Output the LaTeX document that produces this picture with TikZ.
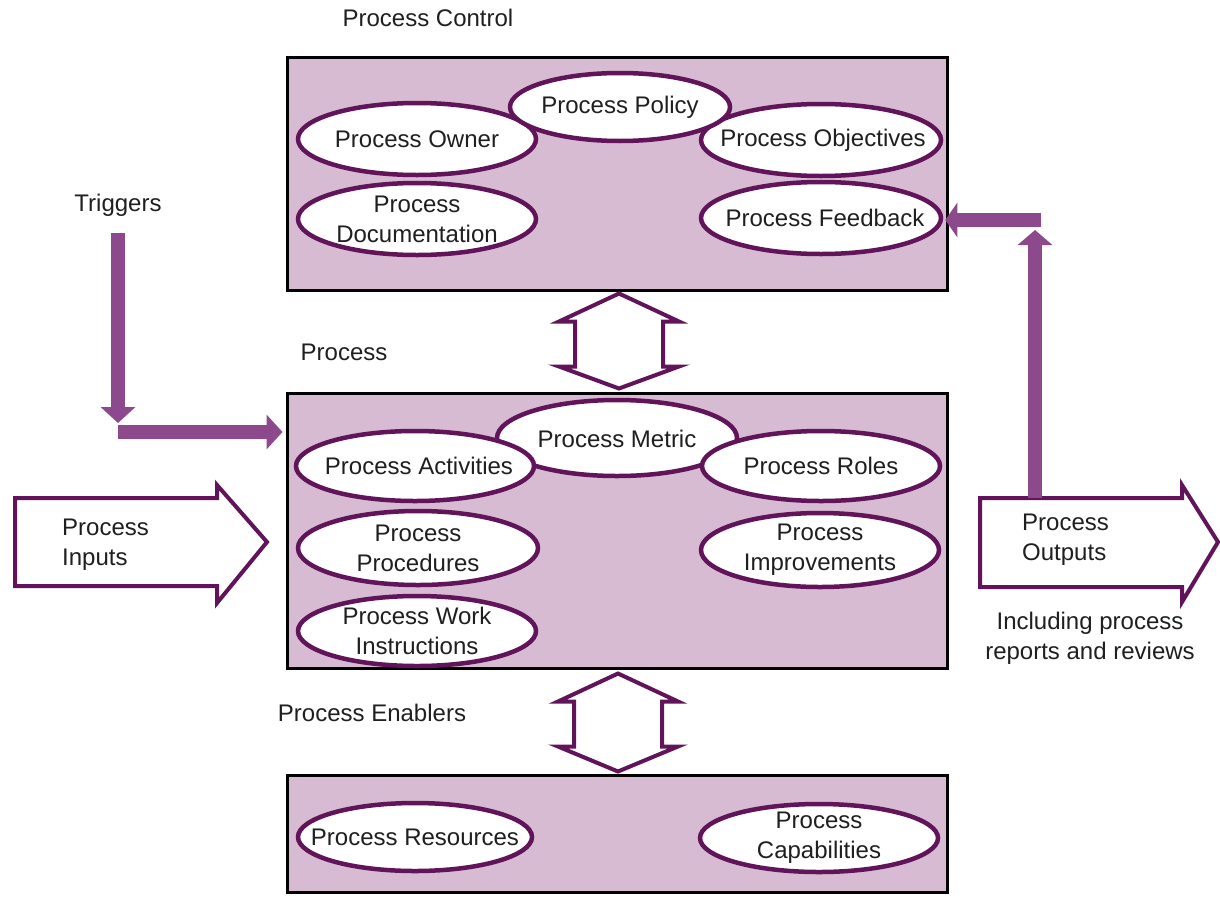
\documentclass[tikz,border=0pt]{standalone}
\usepackage{fontspec}
\setmainfont{Liberation Sans}
\usetikzlibrary{arrows.meta,shapes.geometric,calc}
\definecolor{boxfill}{HTML}{D7BBD3}
\definecolor{ringline}{HTML}{62145A}
\definecolor{flowline}{HTML}{8C4A8C}

\begin{document}
\begin{tikzpicture}[x=1pt,y=-1pt,
  every node/.style={font=\fontsize{24}{30}\selectfont, text=black!88},
  stage/.style={rectangle, draw=black, line width=3pt, fill=boxfill, inner sep=0pt},
  item/.style={ellipse, draw=ringline, line width=4.5pt, fill=white, inner sep=0pt,
    minimum width=238pt, minimum height=72pt},
  tag/.style={align=center, inner sep=0pt},
  flow/.style={draw=flowline, line width=14pt, -{Triangle[length=16pt,width=34pt]}},
  hollow/.style={draw=ringline, line width=4pt, fill=white, line join=miter},
  heading/.style={inner sep=0pt}
]
\useasboundingbox (0,0) rectangle (1220,897);

% three layers
\node[stage, minimum width=660pt, minimum height=233pt] (ctrl) at (617,173.5) {};
\node[stage, minimum width=660pt, minimum height=275pt] (proc) at (617,530.5) {};
\node[stage, minimum width=660pt, minimum height=117pt] (enab) at (617,833.5) {};

% headings
\node[heading] (hctrl) at (428,18) {Process Control};
\node[heading] (hproc) at (344,352) {Process};
\node[heading] (henab) at (372,713) {Process Enablers};
\node[heading] (trig) at (118,205) {Triggers};

% control elements
\node[item, label={[tag]center:Process Owner}] (owner) at (417,139) {};
\node[item, minimum width=240pt, label={[tag,xshift=2pt]center:Process Objectives}] (objectives) at (821,140) {};
\node[item, minimum width=220pt, minimum height=68pt, label={[tag]center:Process Policy}] (policy) at (620,107) {};
\node[item, label={[tag]center:Process\\Documentation}] (docs) at (417,219) {};
\node[item, minimum width=240pt, label={[tag,xshift=4pt]center:Process Feedback}] (feedback) at (821,218) {};

% process elements
\node[item, minimum width=240pt, minimum height=76pt, label={[tag,yshift=-1pt]center:Process Metric}] (metric) at (617,438) {};
\node[item, minimum width=238pt, minimum height=70pt, label={[tag,xshift=4pt]center:Process Activities}] (activities) at (415,466) {};
\node[item, minimum height=70pt, label={[tag]center:Process Roles}] (roles) at (821,466) {};
\node[item, minimum width=240pt, minimum height=74pt, label={[tag]center:Process\\Procedures}] (procedures) at (418,548) {};
\node[item, minimum height=74pt, label={[tag]center:Process\\Improvements}] (improve) at (820,550) {};
\node[item, minimum height=70pt, label={[tag]center:Process Work\\Instructions}] (work) at (417,631) {};

% enablers
\node[item, minimum width=234pt, minimum height=68pt, label={[tag]center:Process Resources}] (resources) at (415,837) {};
\node[item, minimum height=68pt, label={[tag]center:Process\\Capabilities}] (capab) at (819,838) {};

% hollow double arrows between layers
\coordinate (u1) at ($(ctrl.south)+(2,2)$);
\coordinate (u2) at ($(proc.north)+(2,-3)$);
\draw[hollow] (u1) -- ($(u1)+(60,28)$) -- ($(u1)+(44,28)$) -- ($(u2)+(44,-22)$)
  -- ($(u2)+(60,-22)$) -- (u2) -- ($(u2)+(-60,-22)$) -- ($(u2)+(-44,-22)$)
  -- ($(u1)+(-44,28)$) -- ($(u1)+(-60,28)$) -- cycle;
\coordinate (l1) at ($(proc.south)+(1,4)$);
\coordinate (l2) at ($(enab.north)+(1,-2)$);
\draw[hollow] (l1) -- ($(l1)+(60,28)$) -- ($(l1)+(44,28)$) -- ($(l2)+(44,-25)$)
  -- ($(l2)+(60,-25)$) -- (l2) -- ($(l2)+(-60,-25)$) -- ($(l2)+(-44,-25)$)
  -- ($(l1)+(-44,28)$) -- ($(l1)+(-60,28)$) -- cycle;

% inputs block arrow
\draw[hollow] (15,498) coordinate (inA) -- (217,498) -- (217,485) -- (267,542) coordinate (inTip)
  -- (217,603) -- (217,586) -- (15,586) -- cycle;
\node[heading, anchor=west, align=left] (inputs) at (62,545) {Process\\Inputs};

% outputs block arrow
\draw[hollow] (980,498) coordinate (outA) -- (1182,498) -- (1182,485) -- (1218,542) coordinate (outTip)
  -- (1182,602) -- (1182,587) -- (980,587) -- cycle;
\node[heading, anchor=west, align=left] (outputs) at (1022,540) {Process\\Outputs};
\node[heading, align=center] (outnote) at (1090,638) {Including process\\reports and reviews};

% triggers into the process
\coordinate (trigtop) at (118,233);
\coordinate (trigbend) at (118,432);
\draw[flow] (trigtop) -- ($(trigbend)+(0,-9)$);
\draw[flow] (trigbend) -- ($(proc.west |- trigbend)+(-3,0)$);

% outputs fed back to control
\coordinate (fbfoot) at (1035,498);
\coordinate (fbtop) at (1035,230);
\coordinate (fbcorner) at (1041,220);
\draw[draw=flowline, line width=14pt, -{Triangle[length=15pt,width=34pt]}] (fbfoot) -- (fbtop);
\draw[draw=flowline, line width=14pt, -{Triangle[length=12pt,width=34pt]}] (fbcorner) -- ($(feedback.east |- fbcorner)+(2,0)$);
\end{tikzpicture}
\end{document}
